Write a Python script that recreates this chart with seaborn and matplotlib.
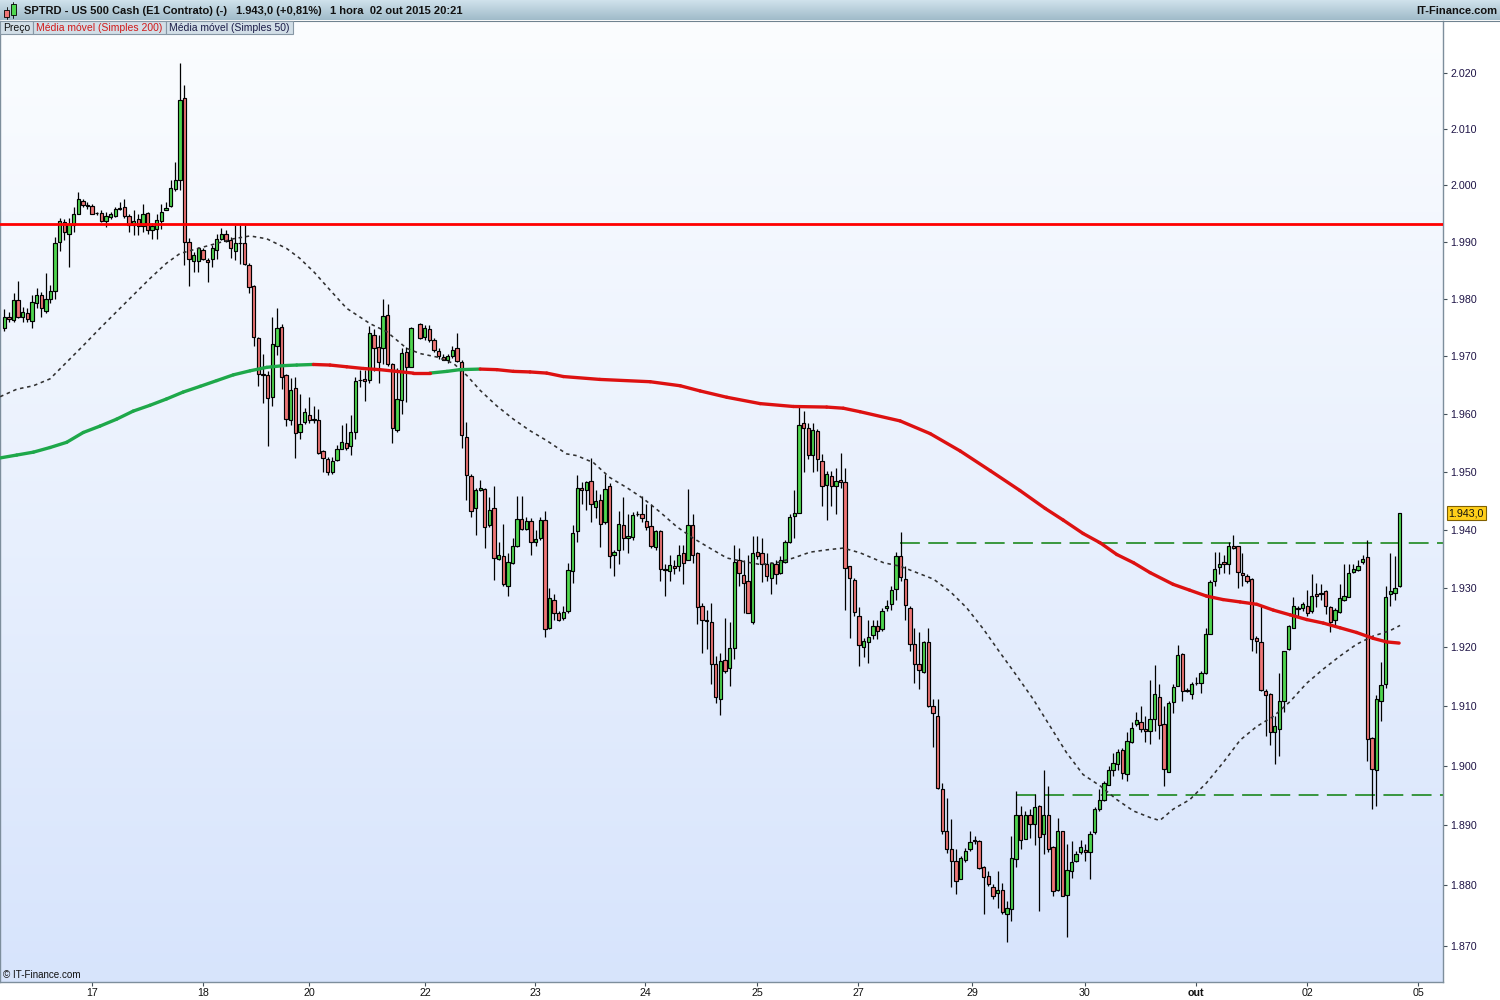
import numpy as np
import pandas as pd
import matplotlib
matplotlib.use("Agg")
import matplotlib.pyplot as plt
import seaborn as sns
from matplotlib.patches import Rectangle
from matplotlib.lines import Line2D
from matplotlib.ticker import FixedLocator, NullLocator, FixedFormatter

nan = float("nan")

# ---------------- data (hourly candles, one NaN = missing hour) ----------------
opens = [1974.9, 1976.8, 1976.4, 1979.9, 1976.8, 1977.6, 1976.2, 1979.4, 1980.8, 1977.9,
         1980.1, 1981.5, 1990.1, 1993.6, 1991.5, 1993.1, 1995.0, 1997.3, 1996.5, 1996.4,
         1995.1, 1995.2, 1993.8, 1994.4, 1994.7, 1995.9, 1996.2, 1994.6, 1993.0, 1994.0,
         1992.8, 1995.2, 1992.2, 1992.4, 1993.7, 1995.7, 1996.4, 1999.4, 2001.0, 2015.5,
         1990.1, 1986.7, 1986.7, 1988.6, 1986.8, 1987.0, 1988.6, 1990.6, 1991.5, 1990.3,
         1988.5, 1989.8, 1989.9, 1986.0, 1982.3, 1973.3, 1967.0, 1966.7, 1962.9, 1971.8,
         1975.2, 1966.7, 1958.9, 1964.5, 1956.9, 1958.6, 1959.9, 1959.0, 1958.9, 1953.6,
         1952.2, 1950.0, 1952.0, 1954.0, 1955.0, 1954.5, 1956.9, 1965.9, 1966.1, 1965.9,
         1973.8, 1971.6, 1971.5, 1977.3, 1968.6, 1957.3, 1962.4, 1970.8, 1968.2, nan,
         1975.6, 1973.4, 1974.7, 1972.9, 1971.0, 1969.9, 1969.4, 1970.1, 1971.4, 1969.1,
         1956.1, 1949.3, 1943.7, 1946.9, 1947.0, 1940.8, 1943.7, 1935.1, 1935.5, 1930.5,
         1934.3, 1937.3, 1941.9, 1940.2, 1941.5, 1938.0, 1938.6, 1941.7, 1923.2, 1928.1,
         1925.9, 1924.9, 1926.2, 1932.9, 1939.8, 1947.3, 1946.9, 1948.4, 1943.9, 1945.2,
         1941.3, 1947.5, 1935.8, 1936.6, 1940.8, 1938.7, 1938.8, 1942.7, 1942.8, 1941.6,
         1940.7, 1937.1, 1939.8, 1933.2, 1932.9, 1933.8, 1933.8, 1936.1, 1934.9, 1940.8,
         1936.1, 1927.0, 1924.7, 1924.3, 1917.1, 1911.3, 1917.9, 1916.4, 1919.8, 1934.8,
         1932.3, 1931.2, 1924.3, 1936.2, 1936.1, 1934.2, 1931.8, 1934.1, 1932.7, 1934.5,
         1937.9, 1942.4, 1943.0, 1958.4, 1957.6, 1952.9, 1957.0, 1951.8, 1947.8, 1949.3,
         1947.5, 1948.6, 1948.2, 1933.8, 1931.4, 1925.3, 1920.1, 1920.8, 1922.0, 1923.6,
         1923.1, 1926.6, 1927.3, 1929.9, 1935.6, 1931.6, 1926.7, 1920.6, 1917.2, 1915.8,
         1920.8, 1910.0, 1908.4, 1896.1, 1889.1, 1886.0, 1884.0, 1881.1, 1884.2, 1886.0,
         1887.3, 1887.4, 1883.1, 1881.6, 1879.7, 1878.8, 1879.3, 1875.3, 1876.1, 1884.3,
         1891.7, 1887.8, 1891.7, 1890.2, 1893.2, 1888.5, 1891.7, 1886.3, 1879.3, 1889.0,
         1878.4, 1882.4, 1884.1, 1885.5, 1885.9, 1885.5, 1888.9, 1892.7, 1894.2, 1896.8,
         1899.3, 1900.3, 1902.7, 1898.6, 1903.9, 1907.0, 1907.4, 1906.1, 1905.9, 1907.9,
         1911.6, 1907.0, 1899.0, 1910.8, 1913.5, 1918.8, 1912.6, 1912.1, 1913.9, 1913.9,
         1915.6, 1922.3, 1931.2, 1933.6, 1934.5, 1934.2, 1937.3, 1937.2, 1932.7, 1932.2,
         1931.6, 1921.6, 1920.8, 1912.6, 1912.0, 1905.6, 1906.2, 1910.9, 1919.7, 1923.3,
         1926.6, 1926.7, 1927.0, 1926.1, 1929.1, 1929.0, 1929.6, 1926.9, 1924.6, 1926.0,
         1928.0, 1928.6, 1932.8, 1933.1, 1934.5, 1935.4, 1904.7, 1899.2, 1910.9, 1913.7,
         1929.0, 1929.2, 1930.4]

highs = [1978.2, 1977.7, 1981.1, 1983.2, 1978.6, 1978.4, 1980.7, 1981.9, 1981.3, 1984.6,
         1982.5, 1990.9, 1994.2, 1994.0, 1994.2, 1996.2, 1998.9, 1997.7, 1997.1, 1996.8,
         1995.4, 1995.6, 1995.3, 1995.3, 1996.2, 1997.1, 1997.7, 1994.9, 1995.6, 1995.0,
         1996.8, 1995.3, 1993.3, 1995.0, 1996.8, 1997.1, 2000.9, 2004.2, 2021.7, 2017.9,
         1990.8, 1988.3, 1989.2, 1988.9, 1987.2, 1989.5, 1991.5, 1992.5, 1992.1, 1990.9,
         1993.0, 1993.0, 1993.0, 1986.3, 1982.5, 1973.4, 1970.5, 1967.5, 1976.9, 1978.5,
         1975.6, 1967.0, 1966.3, 1966.5, 1963.5, 1961.1, 1963.0, 1961.4, 1960.8, 1953.7,
         1952.5, 1952.5, 1954.7, 1958.1, 1958.5, 1959.9, 1966.5, 1967.7, 1967.7, 1975.3,
         1974.7, 1973.7, 1980.1, 1979.1, 1968.8, 1968.0, 1971.4, 1971.6, 1975.1, nan,
         1975.9, 1975.4, 1975.4, 1973.3, 1971.4, 1970.5, 1970.5, 1971.9, 1974.0, 1969.3,
         1958.6, 1949.6, 1947.3, 1948.6, 1947.3, 1945.6, 1947.6, 1938.0, 1941.0, 1936.1,
         1938.6, 1945.9, 1945.9, 1942.3, 1942.0, 1940.0, 1942.3, 1943.3, 1930.1, 1929.0,
         1926.2, 1927.0, 1934.4, 1940.8, 1949.4, 1948.2, 1948.5, 1952.4, 1946.8, 1946.2,
         1949.6, 1948.0, 1936.6, 1943.3, 1945.6, 1942.8, 1943.1, 1943.2, 1945.9, 1944.5,
         1944.5, 1940.0, 1940.0, 1934.1, 1935.8, 1934.9, 1937.5, 1937.5, 1947.1, 1942.7,
         1936.2, 1927.6, 1926.4, 1927.6, 1918.5, 1919.1, 1925.0, 1924.2, 1937.5, 1936.9,
         1934.9, 1935.8, 1939.0, 1938.9, 1938.6, 1936.1, 1934.6, 1934.9, 1935.5, 1938.3,
         1942.7, 1946.8, 1961.4, 1960.6, 1958.5, 1958.5, 1957.4, 1953.1, 1950.2, 1950.2,
         1950.7, 1953.2, 1950.7, 1933.9, 1931.8, 1926.9, 1921.6, 1924.7, 1924.7, 1924.7,
         1926.7, 1928.1, 1930.4, 1936.3, 1939.6, 1933.8, 1927.0, 1923.3, 1922.5, 1921.1,
         1923.2, 1911.2, 1911.2, 1897.1, 1894.6, 1891.0, 1886.0, 1884.8, 1886.2, 1889.1,
         1888.2, 1887.5, 1883.2, 1882.4, 1880.2, 1882.4, 1880.4, 1877.4, 1888.2, 1895.7,
         1893.3, 1892.4, 1892.7, 1895.2, 1893.4, 1899.3, 1896.6, 1886.5, 1891.3, 1889.0,
         1886.8, 1887.4, 1885.7, 1887.6, 1886.8, 1889.0, 1893.0, 1896.0, 1897.4, 1899.9,
         1902.2, 1902.8, 1903.0, 1905.7, 1907.3, 1909.1, 1910.1, 1908.4, 1914.4, 1917.0,
         1913.7, 1910.1, 1910.9, 1913.7, 1920.3, 1919.1, 1913.1, 1914.1, 1915.0, 1916.0,
         1923.3, 1931.5, 1936.2, 1936.2, 1935.8, 1938.0, 1939.2, 1937.3, 1936.1, 1932.4,
         1931.8, 1921.9, 1927.0, 1912.9, 1912.2, 1908.4, 1915.6, 1919.4, 1923.7, 1928.6,
         1927.0, 1927.7, 1929.8, 1932.4, 1931.0, 1930.7, 1929.7, 1927.0, 1926.7, 1930.8,
         1934.1, 1934.1, 1934.1, 1934.9, 1935.8, 1938.3, 1904.8, 1911.9, 1917.5, 1930.4,
         1936.1, 1935.6, 1943.0]

lows = [1974.4, 1976.0, 1976.0, 1976.7, 1976.0, 1976.0, 1975.0, 1978.4, 1976.9, 1977.5,
        1979.3, 1980.1, 1988.5, 1990.4, 1985.6, 1991.8, 1994.9, 1996.2, 1995.9, 1994.9,
        1994.8, 1993.6, 1992.7, 1994.0, 1994.4, 1995.6, 1994.2, 1991.8, 1991.2, 1991.2,
        1991.8, 1991.5, 1990.5, 1990.6, 1992.4, 1995.6, 1996.2, 1999.1, 1999.2, 1986.0,
        1982.3, 1984.8, 1984.8, 1986.8, 1983.0, 1985.7, 1987.1, 1990.4, 1990.1, 1987.2,
        1986.8, 1986.1, 1986.0, 1981.0, 1971.9, 1964.9, 1961.9, 1954.5, 1961.4, 1970.2,
        1964.4, 1957.9, 1958.1, 1952.4, 1955.7, 1958.2, 1958.5, 1958.5, 1953.1, 1949.9,
        1949.5, 1949.6, 1951.8, 1953.9, 1953.7, 1952.9, 1955.7, 1964.6, 1962.3, 1965.3,
        1967.5, 1965.3, 1968.7, 1968.4, 1955.0, 1956.8, 1960.0, 1962.0, 1968.1, nan,
        1973.1, 1972.8, 1972.5, 1970.7, 1969.6, 1969.3, 1968.9, 1969.8, 1969.0, 1954.1,
        1945.1, 1942.2, 1939.2, 1946.7, 1936.9, 1940.6, 1931.5, 1934.9, 1930.4, 1928.7,
        1934.1, 1937.1, 1940.0, 1940.0, 1935.8, 1937.2, 1938.3, 1921.7, 1923.1, 1924.7,
        1924.5, 1924.7, 1925.9, 1931.0, 1938.0, 1944.5, 1943.4, 1941.4, 1942.0, 1937.1,
        1941.1, 1933.5, 1932.1, 1934.1, 1936.6, 1936.1, 1938.3, 1942.4, 1941.3, 1940.0,
        1936.9, 1936.6, 1931.2, 1928.7, 1931.2, 1932.4, 1932.9, 1930.7, 1934.8, 1934.4,
        1923.9, 1919.1, 1919.7, 1913.7, 1910.6, 1908.6, 1915.7, 1913.4, 1918.0, 1930.4,
        1925.9, 1925.8, 1924.0, 1935.1, 1931.1, 1931.2, 1929.1, 1930.7, 1932.4, 1934.3,
        1937.7, 1938.6, 1942.9, 1949.9, 1952.2, 1949.9, 1950.2, 1944.2, 1941.7, 1944.2,
        1942.7, 1947.3, 1926.4, 1921.5, 1925.3, 1916.8, 1918.3, 1917.3, 1921.4, 1921.4,
        1922.8, 1926.2, 1926.4, 1928.1, 1931.2, 1924.7, 1919.4, 1914.0, 1912.9, 1915.6,
        1909.8, 1903.1, 1896.1, 1888.5, 1885.4, 1879.7, 1878.5, 1881.0, 1883.9, 1885.7,
        1886.9, 1882.7, 1875.3, 1879.9, 1877.7, 1876.3, 1875.2, 1870.6, 1874.0, 1883.1,
        1886.0, 1887.7, 1887.9, 1886.7, 1875.7, 1885.2, 1885.5, 1878.3, 1879.1, 1878.2,
        1871.5, 1881.3, 1883.8, 1885.2, 1884.0, 1881.1, 1888.5, 1892.4, 1894.1, 1896.7,
        1898.2, 1899.3, 1897.7, 1897.4, 1903.8, 1906.7, 1905.7, 1903.9, 1903.7, 1905.9,
        1904.5, 1896.6, 1898.9, 1908.9, 1913.4, 1910.9, 1912.4, 1911.3, 1913.6, 1912.3,
        1915.4, 1922.2, 1930.4, 1932.4, 1932.7, 1932.4, 1936.7, 1930.1, 1930.4, 1931.0,
        1919.4, 1919.1, 1912.6, 1905.0, 1903.5, 1900.3, 1901.7, 1909.0, 1919.5, 1923.2,
        1925.3, 1926.2, 1925.3, 1925.8, 1926.9, 1928.1, 1925.6, 1922.6, 1923.7, 1925.9,
        1927.8, 1928.5, 1932.7, 1933.0, 1934.2, 1900.7, 1892.7, 1893.2, 1907.5, 1913.1,
        1927.0, 1928.1, 1930.3]

closes = [1976.8, 1976.6, 1979.9, 1976.9, 1977.8, 1976.6, 1979.5, 1980.7, 1978.4, 1980.1,
          1981.4, 1989.9, 1993.7, 1991.8, 1993.2, 1994.9, 1997.7, 1996.5, 1996.4, 1995.0,
          1995.1, 1993.8, 1994.7, 1995.0, 1995.8, 1995.9, 1994.7, 1993.1, 1993.8, 1992.9,
          1995.0, 1992.1, 1992.8, 1993.9, 1995.3, 1996.0, 1999.6, 2001.0, 2015.2, 1990.1,
          1987.0, 1987.8, 1988.9, 1987.0, 1986.6, 1988.9, 1990.6, 1991.4, 1990.2, 1988.9,
          1989.9, 1989.8, 1986.1, 1982.1, 1973.4, 1967.0, 1966.8, 1962.8, 1972.1, 1975.0,
          1966.5, 1959.1, 1964.2, 1956.7, 1958.2, 1960.4, 1958.9, 1959.0, 1953.3, 1952.4,
          1949.9, 1951.8, 1953.9, 1955.1, 1954.1, 1956.9, 1965.8, 1965.9, 1965.7, 1974.0,
          1971.5, 1969.0, 1977.0, 1968.7, 1957.5, 1962.6, 1970.6, 1968.2, 1974.9, nan,
          1973.3, 1974.9, 1972.8, 1971.2, 1970.1, 1969.4, 1970.0, 1971.2, 1969.2, 1956.3,
          1949.4, 1943.3, 1946.9, 1947.3, 1940.5, 1943.4, 1935.2, 1935.7, 1930.7, 1934.5,
          1937.3, 1941.9, 1940.1, 1941.6, 1938.0, 1938.4, 1941.8, 1923.1, 1928.3, 1925.8,
          1924.7, 1926.0, 1933.1, 1939.5, 1947.3, 1946.8, 1948.3, 1944.4, 1945.0, 1941.0,
          1947.0, 1935.6, 1936.2, 1941.0, 1938.6, 1938.9, 1942.6, 1942.8, 1942.0, 1940.5,
          1937.3, 1939.9, 1933.3, 1933.2, 1934.0, 1933.5, 1935.7, 1934.4, 1940.9, 1935.7,
          1926.9, 1924.7, 1924.5, 1917.1, 1911.6, 1917.6, 1916.0, 1919.8, 1934.5, 1932.7,
          1931.0, 1925.9, 1936.1, 1935.6, 1934.1, 1932.1, 1934.4, 1932.4, 1934.8, 1938.0,
          1942.3, 1943.0, 1958.1, 1957.5, 1952.9, 1957.3, 1952.2, 1947.5, 1949.7, 1947.5,
          1948.4, 1948.2, 1933.5, 1931.8, 1926.0, 1920.3, 1921.0, 1921.8, 1923.6, 1922.8,
          1926.2, 1927.0, 1929.8, 1935.6, 1932.0, 1927.1, 1920.5, 1917.1, 1916.1, 1920.8,
          1910.0, 1908.8, 1896.3, 1889.1, 1886.0, 1884.0, 1880.8, 1884.5, 1885.7, 1887.2,
          1887.5, 1882.8, 1881.4, 1880.2, 1878.2, 1879.2, 1875.5, 1876.3, 1884.6, 1891.8,
          1887.6, 1891.8, 1890.3, 1893.1, 1888.1, 1891.7, 1886.1, 1879.0, 1889.0, 1878.3,
          1882.5, 1883.9, 1885.2, 1886.3, 1885.5, 1888.6, 1892.8, 1894.3, 1897.1, 1899.3,
          1900.5, 1902.3, 1898.8, 1904.2, 1906.4, 1907.6, 1906.1, 1905.9, 1907.8, 1912.0,
          1906.8, 1899.4, 1910.5, 1913.2, 1918.6, 1912.6, 1912.7, 1913.8, 1914.0, 1915.7,
          1922.2, 1931.1, 1933.3, 1934.1, 1934.1, 1937.2, 1937.0, 1932.8, 1932.3, 1931.2,
          1921.4, 1921.1, 1912.7, 1911.9, 1905.7, 1906.6, 1910.9, 1919.3, 1923.6, 1927.0,
          1926.5, 1927.3, 1925.9, 1928.7, 1928.7, 1929.2, 1927.0, 1924.3, 1926.4, 1928.3,
          1928.7, 1932.7, 1933.3, 1933.9, 1935.0, 1904.5, 1899.4, 1911.3, 1913.6, 1928.6,
          1929.5, 1930.1, 1943.0]

# moving averages (bar index, price)
ma50_idx = [-0.9, 2.7, 6.3, 9.9, 13.5, 17.1, 20.7, 24.3, 27.9, 31.5,
            35.1, 38.0, 42.4, 46.0, 49.6, 53.2, 56.8, 61.1, 63.9, 67.1,
            70.5, 74.1, 79.2, 82.8, 87.1, 90.0, 93.6, 97.2, 100.1, 103.0,
            106.6, 110.2, 113.8, 117.4, 121.7, 123.9, 127.5, 131.1, 134.7, 138.3,
            141.9, 145.5, 149.1, 152.7, 156.4, 160.0, 163.6, 167.2, 170.8, 174.4,
            178.0, 181.6, 185.2, 190.3, 193.9, 197.5, 201.1, 204.7, 208.3, 211.9,
            215.5, 219.1, 222.7, 226.3, 229.9, 233.5, 237.2, 240.8, 244.4, 248.0,
            250.1, 253.0, 256.6, 260.2, 263.8, 267.5, 271.1, 274.7, 278.3, 281.9,
            285.5, 289.1, 292.7, 296.3, 299.9, 302.1]
ma50_val = [1963.0, 1964.3, 1964.9, 1966.1, 1969.0, 1971.9, 1974.9, 1977.8, 1980.7, 1983.6,
            1986.3, 1988.0, 1989.0, 1989.8, 1990.6, 1991.1, 1990.6, 1988.9, 1987.2, 1984.7,
            1981.6, 1978.4, 1975.7, 1974.3, 1971.4, 1970.5, 1969.9, 1968.8, 1966.7, 1964.1,
            1961.4, 1959.1, 1957.1, 1955.4, 1953.1, 1952.8, 1951.6, 1949.0, 1947.3, 1945.4,
            1943.1, 1940.6, 1938.6, 1936.9, 1935.2, 1934.6, 1934.1, 1934.4, 1935.2, 1936.2,
            1936.6, 1936.9, 1936.1, 1934.4, 1933.8, 1932.7, 1931.6, 1929.5, 1926.7, 1923.1,
            1919.1, 1915.2, 1911.2, 1906.7, 1902.2, 1898.5, 1896.6, 1894.3, 1892.4, 1891.3,
            1890.8, 1892.7, 1894.3, 1897.1, 1900.5, 1904.3, 1906.6, 1908.3, 1910.8, 1913.9,
            1916.3, 1918.5, 1920.5, 1921.9, 1922.8, 1923.7]

ma200_idx = [-0.9, 2.7, 6.3, 9.9, 13.5, 17.1, 20.7, 24.3, 27.9, 31.5,
             35.1, 38.7, 42.4, 46.0, 49.6, 53.2, 56.8, 60.4, 63.3, 66.9,
             70.5, 74.1, 77.7, 81.3, 84.9, 88.5, 92.1, 95.8, 98.6, 103.0,
             106.6, 110.2, 113.8, 117.4, 121.0, 128.9, 139.8, 146.3, 150.6, 156.4,
             163.6, 170.8, 178.0, 181.6, 185.2, 193.9, 200.4, 206.9, 213.4, 219.8,
             225.3, 229.2, 233.5, 237.2, 240.8, 244.4, 248.0, 253.0, 256.6, 260.2,
             263.8, 267.5, 271.1, 274.7, 278.3, 281.9, 285.5, 289.1, 292.7, 296.3,
             299.2, 301.9]
ma200_val = [1952.4, 1952.9, 1953.4, 1954.2, 1955.1, 1956.8, 1957.9, 1959.1, 1960.5, 1961.5,
             1962.6, 1963.8, 1964.8, 1965.8, 1966.8, 1967.5, 1968.1, 1968.4, 1968.5, 1968.6,
             1968.5, 1968.2, 1967.9, 1967.7, 1967.4, 1967.1, 1967.1, 1967.4, 1967.7, 1967.8,
             1967.7, 1967.4, 1967.3, 1967.1, 1966.5, 1966.0, 1965.6, 1964.9, 1964.0, 1962.9,
             1961.8, 1961.3, 1961.2, 1961.0, 1960.4, 1958.8, 1956.6, 1953.6, 1950.2, 1946.8,
             1943.7, 1941.7, 1939.4, 1937.8, 1935.8, 1934.4, 1932.7, 1930.7, 1929.7, 1928.7,
             1928.1, 1927.7, 1927.3, 1926.3, 1925.5, 1924.7, 1924.1, 1923.3, 1922.5, 1921.5,
             1920.9, 1920.7]

resistance_level = 1993.2
upper_level = 1937.8
upper_level_from = 193.9
lower_level = 1895.0
lower_level_from = 219.0
last_price = 1943.0

y_ticks = [1870, 1880, 1890, 1900, 1910, 1920, 1930, 1940, 1950, 1960, 1970, 1980, 1990, 2000, 2010, 2020]
x_tick_pos = [19.0, 43.0, 66.0, 91.1, 114.9, 138.7, 162.9, 184.8, 209.5, 233.9, 258.0, 282.0, 306.0]
x_tick_labels = ["17", "18", "20", "22", "23", "24", "25", "27", "29", "30", "out", "02", "05"]

# ---------------- style ----------------
sns.set_theme(style="white")
plt.rcParams["font.family"] = ["Liberation Sans", "DejaVu Sans"]

PXW, PXH = 1500, 1000
def fx(px):
    return px / PXW
def fy(py):
    return 1 - py / PXH

fig = plt.figure(figsize=(15, 10), dpi=100)
fig.patch.set_facecolor("white")

AX_L, AX_R, AX_T, AX_B = 0, 1443, 21, 982
pos = [fx(AX_L), fy(AX_B), fx(AX_R) - fx(AX_L), fy(AX_T) - fy(AX_B)]

# gradient background
bg = fig.add_axes(pos, zorder=0)
t = np.linspace(0, 1, 400)[:, None, None]
c_top = np.array([0.985, 0.992, 1.0])
c_bot = np.array([0.843, 0.894, 0.988])
img = c_top * (1 - t) + c_bot * t
bg.imshow(img, aspect="auto", extent=(0, 1, 0, 1), origin="upper", interpolation="bilinear")
bg.set_axis_off()

ax = fig.add_axes(pos, zorder=1)
ax.patch.set_alpha(0)
ax.set_yscale("log")

# ---------------- candles ----------------
df = pd.DataFrame({"o": opens, "h": highs, "l": lows, "c": closes})
df["i"] = np.arange(len(df))
v = df.dropna()
up = v["c"] >= v["o"]
body_col = np.where(up, "#4fd64f", "#ef7676")
ax.vlines(v["i"], v["l"], v["h"], color="black", lw=0.9, zorder=3)
b_low = np.minimum(v["o"], v["c"])
b_h = np.maximum(np.abs(v["c"] - v["o"]), 0.05)
ax.bar(v["i"], b_h, bottom=b_low, width=0.72, color=body_col,
       edgecolor="black", linewidth=0.85, zorder=4)

# ---------------- moving averages ----------------
sns.lineplot(x=ma50_idx, y=ma50_val, ax=ax, color="#303030", lw=1.15,
             linestyle=(0, (2.2, 2.3)), zorder=5, sort=False)

rows = []
for k in range(len(ma200_idx) - 1):
    d = "up" if ma200_val[k + 1] > ma200_val[k] else "down"
    rows.append({"seg": k, "x": ma200_idx[k], "y": ma200_val[k], "dir": d})
    rows.append({"seg": k, "x": ma200_idx[k + 1], "y": ma200_val[k + 1], "dir": d})
seg = pd.DataFrame(rows)
sns.lineplot(data=seg, x="x", y="y", hue="dir", units="seg", estimator=None,
             palette={"up": "#1ea84a", "down": "#dd1111"}, lw=2.4, legend=False,
             ax=ax, zorder=6, sort=False, solid_capstyle="round")

# ---------------- horizontal levels ----------------
XMIN, XMAX = -0.93, 311.4
ax.axhline(resistance_level, color="#ff0000", lw=2.0, zorder=7)
ax.hlines(upper_level, upper_level_from, XMAX, colors="#0b7f0b", lw=1.1,
          linestyles=[(0, (13, 5.5))], zorder=2)
ax.hlines(lower_level, lower_level_from, XMAX, colors="#0b7f0b", lw=1.1,
          linestyles=[(0, (13, 5.5))], zorder=2)

ax.set_xlim(XMIN, XMAX)
ax.set_ylim(1864.0, 2029.3)
ax.set_xlabel("")
ax.set_ylabel("")

# ---------------- axes / ticks ----------------
ax.yaxis.set_major_locator(FixedLocator(y_ticks))
ax.yaxis.set_minor_locator(NullLocator())
ax.yaxis.set_major_formatter(FixedFormatter([f"{v / 1000:.3f}" for v in y_ticks]))
ax.yaxis.tick_right()
ax.tick_params(axis="y", which="major", direction="out", length=3, width=0.8,
               color="#44505a", labelsize=7.7, pad=2.5, labelcolor="#1e1446",
               right=True, left=False, labelright=True, labelleft=False)

ax.xaxis.set_major_locator(FixedLocator(x_tick_pos))
ax.xaxis.set_minor_locator(NullLocator())
ax.xaxis.set_major_formatter(FixedFormatter(x_tick_labels))
ax.tick_params(axis="x", which="major", direction="out", length=3, width=0.8,
               color="#44505a", labelsize=7.7, pad=1.5, labelcolor="#111111",
               bottom=True)
for lab in ax.get_xticklabels():
    if lab.get_text() == "out":
        lab.set_fontweight("bold")

for side in ["left", "right", "bottom"]:
    ax.spines[side].set_visible(True)
    ax.spines[side].set_color("#7d8e9c")
    ax.spines[side].set_linewidth(1.0)
ax.spines["top"].set_visible(False)
ax.grid(False)

# last price box on price axis
fig.text(fx(1448.5), fy(513), "1.943,0", fontsize=7.7, color="#111111",
         ha="left", va="center",
         bbox=dict(boxstyle="square,pad=0.18", fc="#ffcf1a", ec="#806000", lw=0.8))

# ---------------- header bar ----------------
hdr = fig.add_axes([0, fy(20), 1, fy(0) - fy(20)], zorder=3)
t2 = np.linspace(0, 1, 40)[:, None, None]
h_top = np.array([208, 226, 236]) / 255
h_bot = np.array([160, 187, 201]) / 255
hdr.imshow(h_top * (1 - t2) + h_bot * t2, aspect="auto", extent=(0, 1, 0, 1),
           origin="upper", interpolation="bilinear")
hdr.set_axis_off()
fig.add_artist(Line2D([0, 1], [fy(20.5), fy(20.5)], color="#6f8290", lw=0.8,
                      transform=fig.transFigure, zorder=4))

# small candle icon
def fig_rect(x0, y0, x1, y1, fc, ec="black", lw=0.6, z=5):
    fig.add_artist(Rectangle((fx(x0), fy(y1)), fx(x1) - fx(x0), fy(y0) - fy(y1),
                             transform=fig.transFigure, fc=fc, ec=ec, lw=lw, zorder=z))
fig.add_artist(Line2D([fx(6.5), fx(6.5)], [fy(19), fy(7)], color="black", lw=0.6,
                      transform=fig.transFigure, zorder=5))
fig_rect(4, 10, 9, 17, "#ef7676")
fig.add_artist(Line2D([fx(13.5), fx(13.5)], [fy(18), fy(2)], color="black", lw=0.6,
                      transform=fig.transFigure, zorder=5))
fig_rect(11, 4, 16, 15, "#4fd64f")

hy = fy(11)
fig.text(fx(24), hy, "SPTRD - US 500 Cash (E1 Contrato) (-)", fontsize=8.0,
         fontweight="bold", color="#111111", va="center", ha="left", zorder=6)
fig.text(fx(236), hy, "1.943,0 (+0,81%)", fontsize=8.0, fontweight="bold",
         color="#111111", va="center", ha="left", zorder=6)
fig.text(fx(330), hy, "1 hora  02 out 2015 20:21", fontsize=8.0, fontweight="bold",
         color="#111111", va="center", ha="left", zorder=6)
fig.text(fx(1497), hy, "IT-Finance.com", fontsize=8.0, fontweight="bold",
         color="#111111", va="center", ha="right", zorder=6)

# ---------------- legend tabs ----------------
tabs = [(0, 33, "Preço", "#111111"),
        (33, 166, "Média móvel (Simples 200)", "#d11a1a"),
        (166, 293, "Média móvel (Simples 50)", "#1c1c48")]
for x0, x1, txt, col in tabs:
    fig_rect(x0, 21, x1, 34, "#d2dee7", ec="#8797a5", lw=0.8, z=5)
    fig.text(fx(x0 + 3), fy(27.8), txt, fontsize=7.5, color=col,
             va="center", ha="left", zorder=6)

# watermark
fig.text(fx(3), fy(975), "© IT-Finance.com", fontsize=7.1, color="#111111",
         va="center", ha="left", zorder=6)

fig.savefig("out.png", dpi=100, facecolor="white")
